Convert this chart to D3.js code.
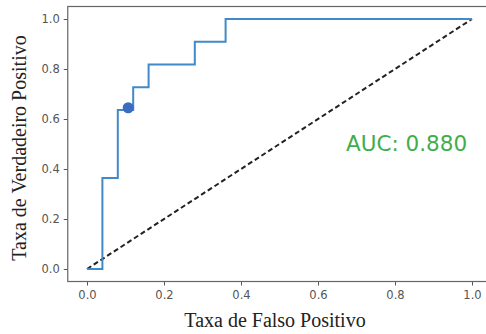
<html><head>
  <script src="https://d3js.org/d3.v7.min.js"></script>
  <style>
    body { margin: 0; background: #fff; }
    .tick text { font-family: 'DejaVu Sans', sans-serif; font-size: 11.5px; fill: #555; }
    .axlabel { font-family: 'Liberation Serif', serif; font-size: 20px; fill: #222; }
  </style>
</head>
<body>
  <script>
    // ROC curve data (false positive rate, true positive rate)
    const fpr = [0.00, 0.04, 0.04, 0.08, 0.08, 0.12, 0.12, 0.16, 0.16, 0.28, 0.28, 0.36, 0.36, 1.00]
    const tpr = [0.00, 0.00, 0.364, 0.364, 0.636, 0.636, 0.727, 0.727, 0.818, 0.818, 0.909, 0.909, 1.00, 1.00]
    // chosen threshold point
    const pointFpr = [0.107]
    const pointTpr = [0.645]
    const tickVals = [0.0, 0.2, 0.4, 0.6, 0.8, 1.0]
    const aucText = "AUC: 0.880"

    const svg = d3.select("body").append("svg")
                  .attr("width", 486)
                  .attr("height", 334)
                  .style("background", "#fff")

    const margin = {left: 67.75, top: 6.5, right: 491.25, bottom: 281.5}

    const x = d3.scaleLinear().domain([-0.05, 1.05]).range([margin.left, margin.right])
    const y = d3.scaleLinear().domain([-0.05, 1.05]).range([margin.bottom, margin.top])

    // axes
    const xAxis = d3.axisBottom(x).tickValues(tickVals).tickFormat(d3.format(".1f")).tickSize(4).tickPadding(5)
    const yAxis = d3.axisLeft(y).tickValues(tickVals).tickFormat(d3.format(".1f")).tickSize(4).tickPadding(4)

    svg.append("g").attr("transform", `translate(0,${margin.bottom})`).call(xAxis)
       .call(g => g.select(".domain").remove())
       .call(g => g.selectAll("line").attr("stroke", "#555"))
    svg.append("g").attr("transform", `translate(${margin.left},0)`).call(yAxis)
       .call(g => g.select(".domain").remove())
       .call(g => g.selectAll("line").attr("stroke", "#555"))

    // frame
    svg.append("rect")
       .attr("x", margin.left).attr("y", margin.top)
       .attr("width", margin.right - margin.left)
       .attr("height", margin.bottom - margin.top)
       .attr("fill", "none").attr("stroke", "#666").attr("stroke-width", 1.2)

    // diagonal reference
    const line = d3.line().x(d => x(d[0])).y(d => y(d[1]))
    svg.append("path")
       .datum([[0, 0], [1, 1]])
       .attr("d", line)
       .attr("fill", "none").attr("stroke", "#222")
       .attr("stroke-width", 2).attr("stroke-dasharray", "5,3")

    // ROC curve
    const rocData = d3.zip(fpr, tpr)
    svg.append("path")
       .datum(rocData)
       .attr("d", line)
       .attr("fill", "none").attr("stroke", "#4189c8").attr("stroke-width", 2)

    svg.selectAll("circle.pt").data(d3.zip(pointFpr, pointTpr))
       .join("circle").attr("class", "pt")
       .attr("cx", d => x(d[0])).attr("cy", d => y(d[1]))
       .attr("r", 5.5).attr("fill", "#3a6cc4")

    // AUC annotation
    svg.append("text")
       .attr("x", 346).attr("y", 151)
       .style("font-family", "'DejaVu Sans', sans-serif")
       .style("font-size", "21.5px")
       .attr("fill", "#3fae4a")
       .text(aucText)

    // axis labels
    svg.append("text").attr("class", "axlabel")
       .attr("x", 275).attr("y", 327).attr("text-anchor", "middle")
       .text("Taxa de Falso Positivo")
    svg.append("text").attr("class", "axlabel")
       .attr("transform", "translate(26,148) rotate(-90)")
       .attr("text-anchor", "middle")
       .text("Taxa de Verdadeiro Positivo")
  </script>
</body></html>
